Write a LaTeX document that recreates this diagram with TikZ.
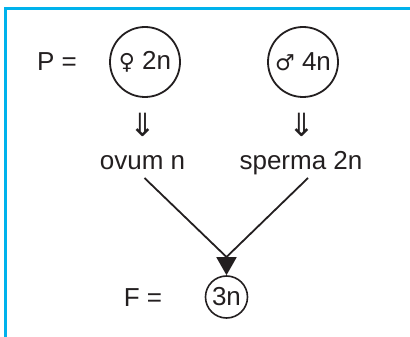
\documentclass[tikz,border=0pt]{standalone}
\usepackage{fontspec}
\setmainfont{Liberation Sans}
\newfontfamily\symfont{DejaVu Sans}
\usetikzlibrary{arrows.meta,calc}
\definecolor{framecol}{RGB}{0,178,236}
\definecolor{ink}{RGB}{35,31,32}
\begin{document}
\begin{tikzpicture}[x=1pt,y=-1pt,
  txt/.style={font=\fontsize{26}{30}\selectfont, text=ink, inner sep=0pt},
  parent/.style={circle, draw=ink, line width=1.8pt, minimum size=70pt, inner sep=0pt, font=\fontsize{26}{30}\selectfont, text=ink},
  child/.style={circle, draw=ink, line width=1.6pt, minimum size=42pt, inner sep=0pt, font=\fontsize{26}{30}\selectfont, text=ink},
  darrow/.style={font=\symfont\fontsize{32}{36}\selectfont, text=ink, inner sep=0pt},
  conn/.style={draw=ink, line width=1.8pt},
]
\useasboundingbox (0,0) rectangle (410,337);
\draw[framecol, line width=2.7pt] (5.3,340) -- (5.3,8.3) -- (412,8.3);

\node[txt] (P) at (57,62) {P =};
\node[parent] (fem) at (145,62) {{\symfont\fontsize{22}{26}\selectfont ♀} 2n};
\node[parent] (mal) at (303,62) {{\symfont\fontsize{22}{26}\selectfont ♂} 4n};

\node[darrow] (a1) at (143,125) {⇓};
\node[darrow] (a2) at (302,125) {⇓};

\node[txt] (ovum) at (142.5,163) {ovum n};
\node[txt] (sperma) at (301,163) {sperma 2n};

\node[txt] (F) at (143,298) {F =};
\node[child] (c3) at (226.5,297) {3n};

\coordinate (j) at (226.5,257);
\draw[conn] ([xshift=2pt,yshift=-15pt]ovum.center) -- (j);
\draw[conn] ([xshift=7pt,yshift=-15pt]sperma.center) -- (j);
\draw[conn, -{Triangle[length=18pt,width=20pt]}] (j) -- (c3.north);
\end{tikzpicture}
\end{document}
